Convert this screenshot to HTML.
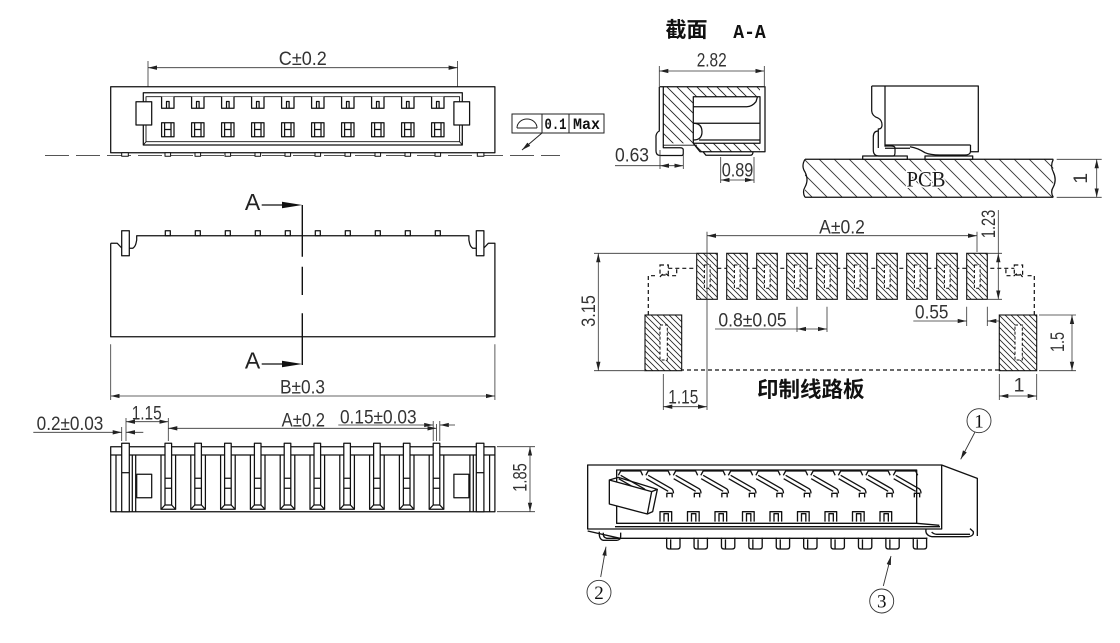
<!DOCTYPE html>
<html><head><meta charset="utf-8"><style>
html,body{margin:0;padding:0;background:#fff;width:1120px;height:643px;overflow:hidden}
svg{display:block}
text{font-family:"Liberation Sans","Noto Sans CJK SC",sans-serif;fill:#333}
.d{fill:none;stroke:#333;stroke-width:.8}
.o{fill:none;stroke:#111;stroke-width:1.25;stroke-linejoin:round}
</style></head><body>
<svg width="1120" height="643" viewBox="0 0 1120 643" xmlns="http://www.w3.org/2000/svg">
<defs>
<marker id="a" viewBox="0 -3 10 6" refX="10" refY="0" markerWidth="9" markerHeight="5.4" orient="auto-start-reverse" markerUnits="userSpaceOnUse"><path d="M0,-2.4L10,0L0,2.4z" fill="#222"/></marker>
<pattern id="h6" patternUnits="userSpaceOnUse" width="6" height="6"><path d="M-1,-1L7,7M-1,5L1,7M5,-1L7,1" stroke="#222" stroke-width="0.8"/></pattern>
<pattern id="h10" patternUnits="userSpaceOnUse" width="10" height="10"><path d="M-1,-1L11,11M-1,9L1,11M9,-1L11,1" stroke="#222" stroke-width="0.9"/></pattern>
<pattern id="h15" patternUnits="userSpaceOnUse" width="15" height="15"><path d="M-1,-1L16,16M-1,14L1,16M14,-1L16,1" stroke="#333" stroke-width="0.9"/></pattern>
<g id="tc"><path d="M161.6,96.7V108.3H174V96.7" fill="#fff"/><path d="M166.5,108.3V101.5H169.1V108.3"/></g>
<g id="bc"><rect x="161.6" y="122.7" width="12.4" height="14"/><path d="M164.6,122.7V136.7M171,122.7V136.7M164.6,129.5H171"/></g>
<rect id="pd" x="165" y="152.7" width="5.6" height="3.6"/>
<rect id="bm" x="165.3" y="230.7" width="5" height="5"/>
<g id="bp"><path d="M161,455V509.3M175.6,455V509.3"/><rect x="165" y="443.3" width="6.6" height="61.7" fill="#fff"/><path d="M165,478.3H171.6M165,488.3H171.6"/><path d="M165,505L161,509.3H175.6L171.6,505"/></g>
<g id="fp"><rect x="696.7" y="253.3" width="20.6" height="46" fill="#fff"/><rect x="696.7" y="253.3" width="20.6" height="46" fill="url(#h6)" stroke="#111" stroke-width="1.1"/><rect x="704.4" y="265" width="5.7" height="23.3" fill="#fff" stroke="#111" stroke-width="1" stroke-dasharray="3 2"/></g>
<g id="ic"><path d="M145,226L152,213H212L218,226"/><path d="M152,226L222,266Q228,270 228,280"/><path d="M146,236L212,274"/><path d="M208,292V280H224V292"/></g>
<g id="iq"><path d="M270,365V335H305V365M282,365V341H295V365"/></g>
<g id="ip"><path d="M290,413V440Q290,447 298,447H322Q330,447 330,440V413M302,418V446"/></g>
</defs>

<!-- ===== VIEW 1 : top view ===== -->
<path class="d" d="M148,61V93M457.6,61V93"/>
<path class="d" d="M148,67.7H457.6" marker-start="url(#a)" marker-end="url(#a)"/>
<text x="302.8" y="65" font-size="19.5" text-anchor="middle" textLength="48" lengthAdjust="spacingAndGlyphs">C±0.2</text>
<path d="M45,155.5H560" fill="none" stroke="#555" stroke-width="1" stroke-dasharray="24 7"/>
<g class="o">
<rect x="110.7" y="86.7" width="384.2" height="66" fill="#fff"/>
<rect x="143.3" y="92.7" width="319" height="52.3"/>
<rect x="146" y="96.7" width="313.6" height="45" stroke-width="0.9"/>
<path d="M143.3,145L146,141.7M462.3,145L459.6,141.7" stroke-width="0.9"/>
<rect x="136" y="101.7" width="15.7" height="23.3" fill="#fff"/>
<rect x="453.9" y="101.7" width="15.7" height="23.3" fill="#fff"/>
<use href="#tc"/><use href="#tc" x="30"/><use href="#tc" x="60"/><use href="#tc" x="90"/><use href="#tc" x="120"/><use href="#tc" x="150"/><use href="#tc" x="180"/><use href="#tc" x="210"/><use href="#tc" x="240"/><use href="#tc" x="270"/>
<use href="#bc"/><use href="#bc" x="30"/><use href="#bc" x="60"/><use href="#bc" x="90"/><use href="#bc" x="120"/><use href="#bc" x="150"/><use href="#bc" x="180"/><use href="#bc" x="210"/><use href="#bc" x="240"/><use href="#bc" x="270"/>
<g fill="#fff" stroke-width="1">
<rect x="121.7" y="152.7" width="6.6" height="3.6"/><rect x="477.3" y="152.7" width="6.6" height="3.6"/>
<use href="#pd"/><use href="#pd" x="30"/><use href="#pd" x="60"/><use href="#pd" x="90"/><use href="#pd" x="120"/><use href="#pd" x="150"/><use href="#pd" x="180"/><use href="#pd" x="210"/><use href="#pd" x="240"/><use href="#pd" x="270"/>
</g>
</g>
<!-- flatness box -->
<g fill="none" stroke="#222" stroke-width="1">
<rect x="512" y="114" width="92" height="19"/>
<path d="M542,114V133M569,114V133"/>
<path d="M517,128H537M517,128A10,9 0 0 1 537,128"/>
<path d="M542,133L522,150" marker-end="url(#a)"/>
</g>
<text x="555.5" y="129" font-size="16" text-anchor="middle" textLength="22" lengthAdjust="spacingAndGlyphs" style="font-family:'Liberation Mono',monospace;font-weight:bold;fill:#111">0.1</text>
<text x="586.5" y="129" font-size="16" text-anchor="middle" textLength="27" lengthAdjust="spacingAndGlyphs" style="font-family:'Liberation Mono',monospace;font-weight:bold;fill:#111">Max</text>

<!-- ===== VIEW 2 : section A-A ===== -->
<text x="686.5" y="37" font-size="21" text-anchor="middle" style="font-family:'Noto Sans CJK SC',sans-serif;font-weight:bold;fill:#111">截面</text>
<text x="749.5" y="38" font-size="19.5" text-anchor="middle" textLength="32.5" lengthAdjust="spacingAndGlyphs" style="font-family:'Liberation Mono',monospace;font-weight:bold;fill:#111">A-A</text>
<path class="d" d="M659.3,66V86M764.3,66V86"/>
<path class="d" d="M659.3,71H764.3" marker-start="url(#a)" marker-end="url(#a)"/>
<text x="711.7" y="66.5" font-size="19.5" text-anchor="middle" textLength="30" lengthAdjust="spacingAndGlyphs">2.82</text>
<path d="M663.3,86.7H760V96.7H693.3V143.3H663.3Z" fill="url(#h10)"/>
<path d="M693.3,143.3H760V151.7H700Z" fill="url(#h10)"/>
<g class="o" stroke-width="1.2">
<path d="M659.3,86.7H765V151.7H700L693.3,143.3"/>
<path d="M663.3,86.7V143.3"/>
<path d="M693.3,96.7H760V143.3H693.3Z"/>
<path d="M693.3,106.7H746.7Q752,106.7 756,101.7L757.5,96.7"/>
<path d="M693.3,123.3H760M699,140H760"/>
<path d="M693.3,123.3Q702,123.3 702,131.7Q702,140 693.3,140"/>
<path d="M659.3,86.7V131Q655.5,133 656,138V151Q656,155.5 660.5,155.5H681.7Q683.3,155.5 683.3,153.5V150Q683.3,147.7 680,147.7H663.3V143.3"/>
<path d="M663.3,145.2H697" stroke-width="0.9"/>
<path d="M703,151.7L706,155.3H750Q753,155.3 753,151.7"/>
</g>
<path class="d" d="M615,165.7H660"/>
<path class="d" d="M660,150V169M683.3,150V169"/>
<path class="d" d="M660,165.7H683.3" marker-start="url(#a)" marker-end="url(#a)"/>
<text x="632" y="161.7" font-size="19.5" text-anchor="middle" textLength="34" lengthAdjust="spacingAndGlyphs">0.63</text>
<path class="d" d="M720.7,157V183M754,157V183"/>
<path class="d" d="M720.7,180H754" marker-start="url(#a)" marker-end="url(#a)"/>
<text x="737.5" y="176.7" font-size="19.5" text-anchor="middle" textLength="31.6" lengthAdjust="spacingAndGlyphs">0.89</text>

<!-- ===== VIEW 3 : PCB mounting ===== -->
<rect x="805" y="159.3" width="248.3" height="38" fill="url(#h15)"/>
<g class="o" stroke-width="1.1">
<path d="M805,159.3H1053.3M805,197.3H1053.3"/>
<path d="M805,159.3Q801,166 805,172Q809,180 805,187Q802,192 805,197.3"/>
<path d="M1053.3,159.3Q1050,166 1053.3,172Q1057,180 1053.3,187Q1050,192 1053.3,197.3"/>
<rect x="862.7" y="156" width="44.6" height="3.3" fill="#fff"/>
<rect x="925" y="156" width="47.7" height="3.3" fill="#fff"/>
<path d="M871.7,86H978.3V151.7H970.5V145" fill="#fff"/>
<path d="M885,86V146.7"/>
<path d="M885,145H970.5M885,148.3H910"/>
<path d="M910,146.7Q918,148 925,152.7Q930,155 940,155H965Q970,155 970.5,151.7"/>
<path d="M871.7,86V111Q872,116 878,118Q882,120 882,125Q882,129 878.3,129V148"/>
<path d="M878.3,131Q873.3,131 873.3,137V150Q873.3,156 879,156H893.3Q895,156 895,152V148Q895,146 891,146H885"/>
</g>
<text x="926" y="186.7" font-size="22.5" text-anchor="middle" textLength="39" lengthAdjust="spacingAndGlyphs" style="font-family:'Liberation Serif',serif;fill:#1a1a1a;stroke:#fff;stroke-width:3px;paint-order:stroke">PCB</text>
<path class="d" d="M1056.7,159.3H1101.7M1056.7,197.3H1101.7"/>
<path class="d" d="M1096.7,159.3V197.3" marker-start="url(#a)" marker-end="url(#a)"/>
<text transform="translate(1087,178.3) rotate(-90)" font-size="19.5" text-anchor="middle">1</text>

<!-- ===== VIEW 4 : front view with section ===== -->
<g class="o">
<path d="M110.7,243.3V336.7H494.9V243.3H488.3L483.9,248"/>
<path d="M110.7,243.3H117.3L121.7,248"/>
<path d="M129.3,248.3H132.7Q135.3,246.7 136,243.3L136.7,240V235.7H468.9V240L469.6,243.3Q470.3,246.7 472.9,248.3H476.3"/>
<rect x="121.7" y="230.7" width="7.6" height="25" fill="#fff"/>
<rect x="476.3" y="230.7" width="7.6" height="25" fill="#fff"/>
<use href="#bm"/><use href="#bm" x="30"/><use href="#bm" x="60"/><use href="#bm" x="90"/><use href="#bm" x="120"/><use href="#bm" x="150"/><use href="#bm" x="180"/><use href="#bm" x="210"/><use href="#bm" x="240"/><use href="#bm" x="270"/>
</g>
<path d="M302.3,205V256.7M302.3,266.7V295M302.3,313.3V365" fill="none" stroke="#111" stroke-width="1.4"/>
<path d="M261.7,205H285M261.7,364H285" fill="none" stroke="#111" stroke-width="1.2"/>
<path d="M282,201.8L302.3,205L282,208.2Z M282,360.8L302.3,364L282,367.2Z" fill="#111"/>
<text x="252.5" y="210" font-size="23" text-anchor="middle" style="fill:#222">A</text>
<text x="252.5" y="368.3" font-size="23" text-anchor="middle" style="fill:#222">A</text>
<path class="d" d="M110.7,344.3V400M494.9,344.3V400"/>
<path class="d" d="M110.7,396H494.9" marker-start="url(#a)" marker-end="url(#a)"/>
<text x="302.5" y="393.3" font-size="19.5" text-anchor="middle" textLength="45" lengthAdjust="spacingAndGlyphs">B±0.3</text>

<!-- ===== VIEW 5 : PCB footprint ===== -->
<g fill="none" stroke="#111" stroke-width="1.2" stroke-dasharray="4 3">
<path d="M668.3,268.3H1014.3"/>
<path d="M648.3,315V275.7H657M660,277Q664,271 668.3,275.7H676.7V268.3"/>
<path d="M1034.3,315V275.7H1025.6M1022.6,277Q1018.6,271 1014.3,275.7H1005.9V268.3"/>
<rect x="660" y="265" width="8.3" height="10"/>
<rect x="1014.3" y="265" width="8.3" height="10"/>
<path d="M645,370H1036.7"/>
</g>
<use href="#fp"/><use href="#fp" x="30"/><use href="#fp" x="60"/><use href="#fp" x="90"/><use href="#fp" x="120"/><use href="#fp" x="150"/><use href="#fp" x="180"/><use href="#fp" x="210"/><use href="#fp" x="240"/><use href="#fp" x="270"/>
<rect x="645" y="315" width="36.7" height="55.7" fill="#fff"/>
<rect x="645" y="315" width="36.7" height="55.7" fill="url(#h6)" stroke="#111" stroke-width="1.1"/>
<rect x="660" y="325" width="7.3" height="35" fill="#fff" stroke="#111" stroke-width="1" stroke-dasharray="3 2"/>
<rect x="999.3" y="315" width="37.4" height="55.7" fill="#fff"/>
<rect x="999.3" y="315" width="37.4" height="55.7" fill="url(#h6)" stroke="#111" stroke-width="1.1"/>
<rect x="1015" y="325" width="7.3" height="35" fill="#fff" stroke="#111" stroke-width="1" stroke-dasharray="3 2"/>
<!-- footprint dims -->
<path class="d" d="M707,231.7V410M977,231.7V252"/>
<path class="d" d="M707,235.7H977" marker-start="url(#a)" marker-end="url(#a)"/>
<text x="842" y="233.3" font-size="19.5" text-anchor="middle" textLength="45.7" lengthAdjust="spacingAndGlyphs">A±0.2</text>
<path class="d" d="M988,253.3H1002M988,299.3H1002M998.3,210V253.3"/>
<path class="d" d="M998.3,276V253.3" marker-end="url(#a)"/>
<path class="d" d="M998.3,276V299.3" marker-end="url(#a)"/>
<text transform="translate(995,224) rotate(-90)" font-size="19.5" text-anchor="middle" textLength="28.3" lengthAdjust="spacingAndGlyphs">1.23</text>
<path class="d" d="M594,253.3H696M594,370.7H645"/>
<path class="d" d="M598.3,253.3V370.7" marker-start="url(#a)" marker-end="url(#a)"/>
<text transform="translate(595,311) rotate(-90)" font-size="19.5" text-anchor="middle" textLength="31.7" lengthAdjust="spacingAndGlyphs">3.15</text>
<path class="d" d="M715,329H797M797,306.7V332M827,306.7V332"/>
<path class="d" d="M797,329H827" marker-start="url(#a)" marker-end="url(#a)"/>
<text x="752.5" y="326.7" font-size="19.5" text-anchor="middle" textLength="68.3" lengthAdjust="spacingAndGlyphs">0.8±0.05</text>
<path class="d" d="M913.3,321H950M966.7,306.7V326M987.3,306.7V326"/>
<path class="d" d="M950,321H966.7" marker-end="url(#a)"/>
<path class="d" d="M1000,321H987.3" marker-end="url(#a)"/>
<text x="931.7" y="318.3" font-size="19.5" text-anchor="middle" textLength="33.3" lengthAdjust="spacingAndGlyphs">0.55</text>
<path class="d" d="M1039,315H1076M1039,370.7H1076"/>
<path class="d" d="M1072,315V370.7" marker-start="url(#a)" marker-end="url(#a)"/>
<text transform="translate(1064,342) rotate(-90)" font-size="19.5" text-anchor="middle" textLength="20" lengthAdjust="spacingAndGlyphs">1.5</text>
<path class="d" d="M999.3,374V400M1036.7,374V400"/>
<path class="d" d="M999.3,396H1036.7" marker-start="url(#a)" marker-end="url(#a)"/>
<text x="1019" y="391.7" font-size="19.5" text-anchor="middle">1</text>
<path class="d" d="M663.3,374V410"/>
<path class="d" d="M663.3,406.7H707" marker-start="url(#a)" marker-end="url(#a)"/>
<text x="683.3" y="403.3" font-size="19.5" text-anchor="middle" textLength="30" lengthAdjust="spacingAndGlyphs">1.15</text>
<text x="810.7" y="397" font-size="21.5" text-anchor="middle" style="font-family:'Noto Sans CJK SC',sans-serif;font-weight:bold;fill:#111">印制线路板</text>

<!-- ===== VIEW 6 : bottom/side view ===== -->
<g class="o">
<rect x="110.7" y="446.7" width="384.2" height="65" fill="#fff"/>
<path d="M110.7,455H494.9"/>
<path d="M116,455V511.7M132.3,455V511.7M135.7,455V511.7"/>
<rect x="121.7" y="443.3" width="7.6" height="68.4" fill="#fff"/>
<path d="M121.7,472.7H129.3"/>
<rect x="136.7" y="474.3" width="15" height="23.4"/>
<path d="M489.6,455V511.7M473.3,455V511.7M469.9,455V511.7"/>
<rect x="476.3" y="443.3" width="7.6" height="68.4" fill="#fff"/>
<path d="M476.3,472.7H483.9"/>
<rect x="453.9" y="474.3" width="15" height="23.4"/>
<use href="#bp"/><use href="#bp" x="29.8"/><use href="#bp" x="59.6"/><use href="#bp" x="89.4"/><use href="#bp" x="119.2"/><use href="#bp" x="149"/><use href="#bp" x="178.8"/><use href="#bp" x="208.6"/><use href="#bp" x="238.4"/><use href="#bp" x="268.2"/>
</g>
<path class="d" d="M121.7,427V441M126,418V441M168.3,418V441M436.5,424V441M433.2,421V441M439.8,421V441"/>
<path class="d" d="M33.3,432.3H121.7" marker-end="url(#a)"/>
<path class="d" d="M143.3,432.3H126" marker-end="url(#a)"/>
<text x="70" y="430" font-size="19.5" text-anchor="middle" textLength="66.7" lengthAdjust="spacingAndGlyphs">0.2±0.03</text>
<path class="d" d="M126,421.7H168.3" marker-start="url(#a)" marker-end="url(#a)"/>
<text x="146.7" y="419.5" font-size="19.5" text-anchor="middle" textLength="30" lengthAdjust="spacingAndGlyphs">1.15</text>
<path class="d" d="M168.3,428.3H436.5" marker-start="url(#a)" marker-end="url(#a)"/>
<text x="303.3" y="426.7" font-size="19.5" text-anchor="middle" textLength="43.3" lengthAdjust="spacingAndGlyphs">A±0.2</text>
<path class="d" d="M338.3,425H433.2" marker-end="url(#a)"/>
<path class="d" d="M455,425H439.8" marker-end="url(#a)"/>
<text x="378.3" y="423.3" font-size="19.5" text-anchor="middle" textLength="76.7" lengthAdjust="spacingAndGlyphs">0.15±0.03</text>
<path class="d" d="M497,446.7H535M497,511.7H535"/>
<path class="d" d="M530,446.7V511.7" marker-start="url(#a)" marker-end="url(#a)"/>
<text transform="translate(526.7,477.5) rotate(-90)" font-size="19.5" text-anchor="middle" textLength="28.4" lengthAdjust="spacingAndGlyphs">1.85</text>

<!-- ===== VIEW 7 : isometric ===== -->
<g transform="translate(570,400) scale(0.33333)" fill="none" stroke="#111" stroke-width="4" stroke-linejoin="round">
<path d="M1115,195L1222,235V408" />
<path d="M53,195H1115V387H53Z" fill="#fff"/>
<path d="M53,393L150,415H1072"/>
<path d="M140,210H1040V370H140Z"/>
<path d="M135,380H1110M1040,370L1108,376"/>
<use href="#ic"/><use href="#ic" x="82.5"/><use href="#ic" x="165"/><use href="#ic" x="247.5"/><use href="#ic" x="330"/><use href="#ic" x="412.5"/><use href="#ic" x="495"/><use href="#ic" x="577.5"/><use href="#ic" x="660"/><use href="#ic" x="742.5"/><use href="#ic" x="825"/>
<use href="#iq"/><use href="#iq" x="82.5"/><use href="#iq" x="165"/><use href="#iq" x="247.5"/><use href="#iq" x="330"/><use href="#iq" x="412.5"/><use href="#iq" x="495"/><use href="#iq" x="577.5"/><use href="#iq" x="660"/>
<use href="#ip"/><use href="#ip" x="82.2"/><use href="#ip" x="164.4"/><use href="#ip" x="246.6"/><use href="#ip" x="328.8"/><use href="#ip" x="411"/><use href="#ip" x="493.2"/><use href="#ip" x="575.4"/><use href="#ip" x="657.6"/><use href="#ip" x="739.8"/>
<path d="M118,240L245,275L232,342L118,312Z" fill="#fff"/>
<path d="M118,240L145,232L262,268L245,275M262,268L248,335L232,342"/>
<path d="M88,395Q86,418 100,421H140Q152,420 152,410V398M100,398Q98,412 110,415H148"/>
<path d="M1068,388Q1065,405 1085,410H1195Q1212,408 1210,395L1200,386M1085,396Q1090,402 1100,403H1200"/>
</g>
<g fill="none" stroke="#333" stroke-width="0.9">
<path d="M975,432L960.7,459.3" marker-end="url(#a)"/>
<path d="M600.7,577L606,546.7" marker-end="url(#a)"/>
<path d="M883.3,586L891,556" marker-end="url(#a)"/>
<circle cx="979" cy="420.7" r="12"/>
<circle cx="599" cy="592.3" r="12"/>
<circle cx="881.7" cy="601" r="12"/>
</g>
<text x="979" y="427.5" font-size="19" text-anchor="middle" style="font-family:'Liberation Serif',serif;fill:#111">1</text>
<text x="599" y="599" font-size="19" text-anchor="middle" style="font-family:'Liberation Serif',serif;fill:#111">2</text>
<text x="881.7" y="607.7" font-size="19" text-anchor="middle" style="font-family:'Liberation Serif',serif;fill:#111">3</text>
</svg>
</body></html>
